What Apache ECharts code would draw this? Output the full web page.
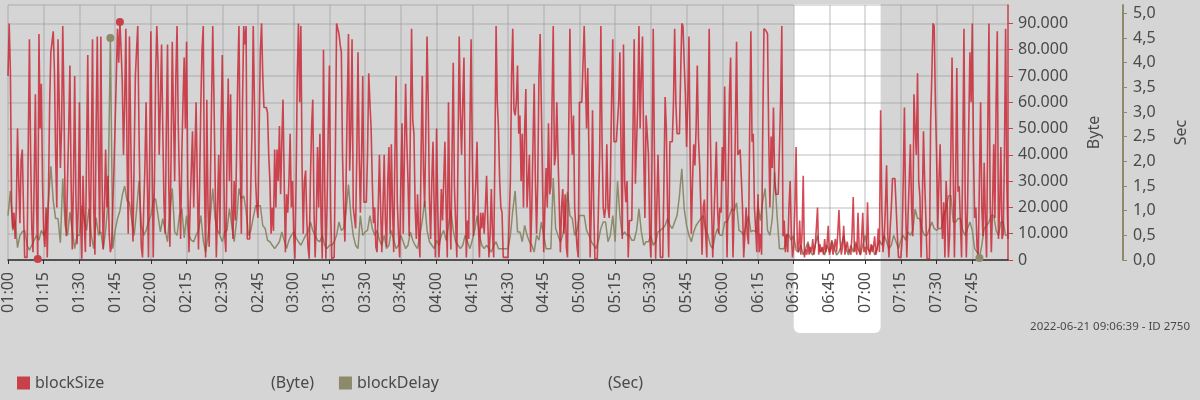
<!DOCTYPE html>
<html>
<head>
<meta charset="utf-8">
<title>blockSize / blockDelay</title>
<script src="https://cdn.jsdelivr.net/npm/echarts@6/dist/echarts.min.js"></script>
<style>
	html, body { margin: 0; padding: 0; background: #d5d5d5; }
	#chart { width: 1200px; height: 400px; }
</style>
</head>
<body>
<div id="chart"></div>
<script>
// blockSize in kByte, one value every 30 s from 01:00 to 08:00
var blockSizeKB = [
	70,90,72,22,12,18,8,20,50,30,
	14,38,42,20,1,1,1,1,84,40,
	12,3,30,63,20,0.4,86,50,67,30,
	10,5,20,1,25,60,79,83,87,72,
	40,20,84,60,35,50,89,60,20,9,
	30,50,74,30,4,30,70,25,6,20,
	60,15,0.5,32,15,3,40,78,30,5,
	40,84,20,2,50,85,40,10,85,30,
	4,20,42,20,32,10,3,5,20,35,
	52,70,88,75,90.5,80,68,40,60,88,
	40,10,85,50,20,7,40,70,80,89,
	50,20,5,1,20,35,60,30,1,40,
	87,40,1,30,70,89,75,40,60,82,
	50,22,10,50,82,30,5,40,83,55,
	30,70,89,52,30,8,40,60,77,50,
	83,30,3,20,35,49,20,40,60,30,
	4,30,60,80,89,30,1,61,20,5,
	30,60,89,62,30,1,20,40,10,50,
	78,45,10,3,40,69,30,63,20,8,
	30,15,40,70,89,40,10,60,89,82,
	89,8,8,8,8,50,89,60,30,20,
	16,50,80,90,70,58,58,58,56,40,
	30,10,20,11,42,20,42,30,51,25,
	45,61,30,3,25,18,30,48,20,30,
	10,0.5,30,70,90,60,89,36,10,30,
	34,15,5,0.5,30,50,61,20,1,15,
	43,20,48,15,0.5,80,30,0.5,20,50,
	74,20,0.5,1,1,40,90,88,86,82,
	79,40,20,7,30,60,86,34,50,84,
	20,20,12,40,79,40,18,40,70,22,
	22,22,40,71,60,50,30,14,20,5,
	3,20,40,20,3,20,40,15,5,30,
	43,10,44,20,3,40,70,22,10,1,
	30,52,10,40,67,45,30,9,50,88,
	53,48,20,8,25,10,1,40,70,34,
	20,50,85,60,23,8,30,45,20,1,
	50,20,1,10,27,15,30,45,20,1,
	60,20,4,40,75,28,28,1,40,85,
	56,40,60,77,30,1,15,8,50,84,
	40,9,20,30,45,15,1,18,12,18,
	10,20,32,15,1,10,27,10,1,40,
	89,60,50,30,20,18,1,1,1,1,
	1,1,30,70,88,57,55,60,74,48,
	55,30,48,20,50,65,20,30,40,3,
	20,44,67,30,10,30,70,86,59,30,
	3,20,35,20,52,25,28,60,89,36,
	40,60,40,22,3,20,27,10,25,5,
	1,50,88,58,40,55,20,12,5,1,
	60,60,60,60,89,89,50,73,40,1,
	20,57,20,0.5,0.5,0.5,0.5,40,89,45,
	20,16,20,44,20,16,30,60,84,45,
	45,45,45,60,79,40,8,82,30,22,
	30,1,15,15,15,50,84,29,29,60,
	89,50,70,85,40,16,55,55,40,10,
	1,40,88,40,0.5,20,40,20,1,1,
	1,30,62,50,20,1,45,45,45,60,
	88,60,48,48,48,70,90,89,75,63,
	43,60,85,40,10,30,44,36,50,74,
	46,36,20,2,20,23,10,1,50,88,
	47,20,1,1,30,45,20,10,20,18,
	43,30,66,30,1,30,63,77,30,1,
	20,50,83,40,40,42,42,20,1,10,
	20,10,6,48,87,45,48,20,12,3,
	25,3,10,2,50,88,88,87,86,47,
	20,47,35,58,30,25,25,25,25,60,
	89,9,15,3,10,3,20,30,10,1,
	5,20,43,5,3,15,2,10,32,1,
	4,2,6,2,5,3,8,2,5,12,
	20,2,6,3,5,2,8,3,6,13,
	2,4,7,2,5,8,3,10,19,7,
	2,5,13,2,5,7,3,4,2,10,
	24,3,6,2,18,4,2,8,18,3,
	5,2,22,4,2,6,3,5,9,2,
	4,12,3,57,20,3,8,20,36,10,
	1,12,20,31,31,31,31,10,1,1,
	1,7,30,58,20,1,16,30,44,20,
	9,63,50,40,71,30,24,1,20,49,
	30,16,0.5,0.5,0.5,52,70,90,89,60,
	40,12,30,44,20,8,22,1,30,20,
	1,10,40,77,33,1,30,73,26,28,
	28,1,40,88,25,1,20,50,79,60,
	90,41,16,20,5,1,1,60,20,9,
	37,15,1,50,90,22,3,20,44,16,
	60,87,8,20,43,8,10,40,88,30,
	8
];

// blockDelay in seconds, one value every 60 s from 01:00 to 08:00
var blockDelay = [
	0.9,1.4,0.6,0.8,0.25,0.5,0.57,0.6,0.3,0.2,
	0.3,0.4,0.5,0.4,0.6,0.5,0.6,1.2,1.9,1.2,
	0.84,0.84,0.35,1.65,0.7,0.5,0.97,0.6,0.23,0.5,
	0.5,1.1,0.84,0.6,1.04,0.5,0.23,0.86,0.5,0.57,
	0.23,0.6,1.17,4.5,0.23,0.6,0.84,1.0,1.31,1.5,
	1.2,1.17,0.8,0.5,1.0,1.6,0.7,0.5,0.6,0.77,
	0.9,1.2,1.24,0.9,0.57,0.84,0.6,0.37,1.0,1.45,
	0.57,0.5,0.9,1.04,0.45,0.9,0.5,0.4,0.37,0.5,
	0.6,0.9,0.4,0.16,0.5,0.9,1.45,0.84,0.6,0.5,
	0.37,0.57,0.6,1.04,0.7,0.37,0.8,1.45,1.24,1.3,
	1.0,0.5,0.6,0.86,1.1,1.1,1.1,0.7,0.64,0.4,
	0.37,0.3,0.23,0.3,0.37,0.57,0.4,0.23,0.4,0.5,
	0.57,0.45,0.37,0.3,0.4,0.5,0.57,0.77,0.6,0.5,
	0.4,0.37,0.5,0.3,0.23,0.3,0.3,0.37,0.5,0.77,
	0.6,0.64,1.0,1.53,0.9,0.5,0.3,0.23,0.9,0.5,
	0.57,0.6,0.9,0.64,0.5,0.6,0.4,0.3,0.5,0.23,
	0.3,0.6,0.4,0.23,0.3,0.5,0.37,0.23,0.3,0.57,
	0.4,0.3,0.23,0.5,0.8,1.2,0.6,0.37,0.3,0.23,
	0.4,0.3,0.5,0.6,0.4,0.7,1.0,0.6,0.37,0.3,
	0.23,0.3,0.5,0.37,0.23,0.4,0.6,0.9,0.5,0.3,
	0.23,0.3,0.23,0.16,0.3,0.37,0.23,0.23,0.23,0.23,
	0.23,0.5,1.0,1.4,0.57,0.57,0.37,0.7,0.5,0.37,
	0.3,0.16,0.5,0.4,0.77,0.5,0.23,0.23,0.23,1.66,
	0.64,0.5,0.37,0.5,0.84,1.38,0.9,0.84,0.5,0.6,
	0.9,0.9,0.9,0.6,0.5,0.37,0.3,0.23,0.4,0.64,
	0.77,0.77,0.37,0.5,0.9,0.37,1.6,0.9,0.5,0.57,
	0.5,0.5,0.4,0.4,0.6,1.04,0.57,0.3,0.37,0.37,
	0.5,0.3,0.37,0.57,0.6,0.64,0.7,0.84,0.7,0.64,
	0.77,0.9,1.3,1.85,1.04,0.7,0.5,0.37,0.57,0.7,
	0.77,0.84,0.9,0.6,0.5,0.3,0.23,0.5,0.64,0.5,
	0.5,0.77,0.77,0.9,1.04,1.0,1.16,0.6,0.57,0.5,
	0.7,0.9,0.57,0.6,0.57,1.1,0.8,1.2,1.45,0.6,
	0.5,0.84,1.78,0.9,0.23,0.23,0.23,0.5,0.5,0.4,
	0.5,0.2,0.16,0.3,0.1,0.23,0.37,0.16,0.1,0.3,
	0.5,0.16,0.23,0.1,0.3,0.16,0.4,0.23,0.1,0.16,
	0.3,0.5,0.23,0.1,0.3,0.16,0.37,0.23,0.1,0.3,
	0.5,0.23,0.16,0.3,0.1,0.23,0.4,0.3,0.5,0.37,
	0.23,0.3,0.5,0.37,0.23,0.4,0.5,0.4,0.57,0.5,
	0.6,1.03,0.84,0.84,0.6,0.5,0.5,0.64,0.77,0.64,
	0.6,0.64,0.64,0.9,1.04,1.3,1.31,0.77,0.77,0.84,
	0.84,0.6,0.5,0.64,0.77,0.6,0.23,0.16,0.04,0.3,
	0.64,0.7,0.77,0.9,0.9,0.6,0.5,0.77,0.77,0.5,
	0.5
];

var seriesNames = ['blockSize', 'blockDelay'];
var seriesUnits = { blockSize: '(Byte)', blockDelay: '(Sec)' };
var stampText = '2022-06-21 09:06:39 - ID 2750';
var bandFrom = '06:30:00';
var bandTo = '07:06:30';

// category labels, every 30 s
var times = [];
for (var i = 0; i < blockSizeKB.length; i++) {
	var sec = 3600 + i * 30;
	var h = Math.floor(sec / 3600), m = Math.floor(sec % 3600 / 60), s = sec % 60;
	times.push(pad(h) + ':' + pad(m) + ':' + pad(s));
}

function pad(n) {
	return n < 10 ? '0' + n : '' + n;
}

function fmtByte(v) {
	if (v == 0) return '0';
	return (v / 1000) + '.000';
}

function fmtSec(v) {
	return v.toFixed(1).replace('.', ',');
}

// show a tick, label and grid line every quarter hour
function quarter(index) {
	return index % 30 === 0 && index < times.length - 1;
}

var textColor = '#4a4a4a';
var gridColor = 'rgba(150,150,150,0.42)';
var redLine = 'rgba(200,30,45,0.8)';
var red = '#c8404a';
var olive = '#8c8a6a';

var myChart = echarts.init(document.getElementById('chart'));

var option = {
	animation: false,
	backgroundColor: '#d5d5d5',
	textStyle: { fontFamily: 'Noto Sans', color: textColor },
	grid: { left: 7, right: 192, top: 5, bottom: 140 },
	legend: {
		data: seriesNames,
		left: 17,
		top: 375,
		padding: 0,
		icon: 'rect',
		itemWidth: 13,
		itemHeight: 13,
		itemGap: 25,
		selectedMode: false,
		textStyle: {
			color: textColor,
			fontSize: 16,
			rich: {
				blockSize: { width: 236, fontSize: 16, color: textColor },
				blockDelay: { width: 251, fontSize: 16, color: textColor },
				u: { fontSize: 16, color: textColor }
			}
		},
		formatter: function(name) {
			return '{' + name + '|' + name + '}{u|' + seriesUnits[name] + '}';
		}
	},
	xAxis: {
		type: 'category',
		data: times,
		boundaryGap: false,
		offset: 5,
		axisLine: { lineStyle: { color: '#2e2e2e', width: 1.5 } },
		axisTick: { interval: quarter, length: 4, lineStyle: { color: '#2e2e2e' } },
		axisLabel: {
			interval: quarter,
			rotate: 90,
			margin: 7,
			fontSize: 16,
			color: textColor,
			formatter: function(v) { return v.slice(0, 5); }
		},
		splitLine: { show: true, interval: quarter, lineStyle: { color: gridColor, width: 1.5 } }
	},
	yAxis: [
		{
			type: 'value',
			position: 'right',
			min: 0,
			max: 97000,
			interval: 10000,
			name: 'Byte',
			nameLocation: 'middle',
			nameRotate: 90,
			nameGap: 78,
			nameTextStyle: { fontSize: 16, color: textColor },
			axisLine: { show: true, lineStyle: { color: red, width: 1.5 } },
			axisTick: { show: true, length: 5, lineStyle: { color: red } },
			axisLabel: { margin: 10, fontSize: 16, color: textColor, showMaxLabel: false, formatter: fmtByte },
			splitLine: { show: true, lineStyle: { color: gridColor, width: 1.5 } }
		},
		{
			type: 'value',
			position: 'right',
			offset: 115,
			min: 0,
			max: 5.17,
			interval: 0.5,
			name: 'Sec',
			nameLocation: 'middle',
			nameRotate: 90,
			nameGap: 50,
			nameTextStyle: { fontSize: 16, color: textColor },
			axisLine: { show: true, lineStyle: { color: olive, width: 2 } },
			axisTick: { show: true, length: 4, lineStyle: { color: olive } },
			axisLabel: { margin: 10, fontSize: 16, color: textColor, showMaxLabel: false, formatter: fmtSec },
			splitLine: { show: false }
		}
	],
	series: [
		{
			name: 'blockDelay',
			type: 'line',
			yAxisIndex: 1,
			z: 2,
			showSymbol: false,
			data: blockDelay.map(function(v, k) { return [k * 2, v]; }),
			lineStyle: { color: olive, width: 1.5 },
			itemStyle: { color: olive },
			markPoint: {
				symbol: 'circle',
				symbolSize: 8,
				label: { show: false },
				data: [{ type: 'max' }, { type: 'min' }]
			}
		},
		{
			name: 'blockSize',
			type: 'line',
			yAxisIndex: 0,
			z: 3,
			showSymbol: false,
			data: blockSizeKB.map(function(v) { return v * 1000; }),
			lineStyle: { color: redLine, width: 1.6 },
			itemStyle: { color: red },
			markPoint: {
				symbol: 'circle',
				symbolSize: 8,
				label: { show: false },
				data: [{ type: 'max' }, { type: 'min' }]
			}
		}
	]
};
myChart.setOption(option);

// white highlight band behind the plot, reaching down over the time labels
var x0 = myChart.convertToPixel({ xAxisIndex: 0 }, bandFrom);
var x1 = myChart.convertToPixel({ xAxisIndex: 0 }, bandTo);
var yTop = myChart.convertToPixel({ yAxisIndex: 0 }, 97000) - 1;
myChart.setOption({
	graphic: [
		{
			type: 'rect',
			z: -10,
			silent: true,
			shape: { x: x0, y: yTop, width: x1 - x0, height: 333 - yTop, r: [0, 0, 6, 6] },
			style: { fill: '#ffffff' }
		},
		{
			type: 'text',
			right: 10,
			top: 321,
			silent: true,
			style: { text: stampText, fill: textColor, font: '11.5px "Noto Sans"' }
		}
	]
});
</script>
</body>
</html>
